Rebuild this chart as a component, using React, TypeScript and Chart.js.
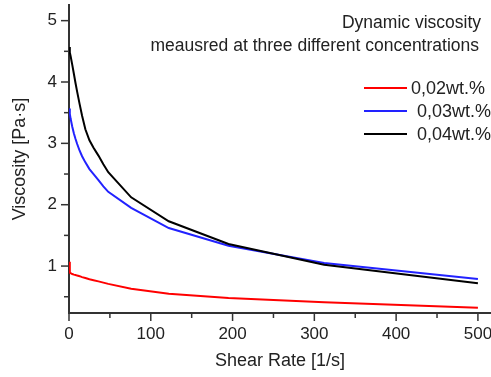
import React, { useEffect, useRef } from "react";
import { Chart, registerables } from "chart.js";

Chart.register(...registerables);

const shearRate = [0, 1, 2, 4, 6, 8, 10, 13, 16, 20, 25, 30, 36, 42, 48, 76, 122, 195, 312, 500];
const visc002 = [1.07, 0.89, 0.885, 0.87, 0.86, 0.855, 0.845, 0.835, 0.82, 0.805, 0.785, 0.77, 0.75, 0.73, 0.71, 0.63, 0.55, 0.48, 0.41, 0.32];
const visc003 = [3.57, 3.48, 3.4, 3.27, 3.16, 3.07, 2.99, 2.88, 2.79, 2.69, 2.58, 2.5, 2.4, 2.3, 2.21, 1.95, 1.62, 1.33, 1.05, 0.79];
const visc004 = [4.57, 4.48, 4.42, 4.28, 4.13, 3.98, 3.84, 3.64, 3.45, 3.23, 3.05, 2.93, 2.8, 2.66, 2.53, 2.12, 1.73, 1.36, 1.02, 0.72];

const seriesLabels = ["0,02wt.%", "0,03wt.%", "0,04wt.%"];
const seriesColors = ["#ff0000", "#2222ff", "#000000"];

const xTicks = [0, 50, 100, 150, 200, 250, 300, 350, 400, 450, 500];
const yTicks = [0.5, 1, 1.5, 2, 2.5, 3, 3.5, 4, 4.5, 5];

const annotationLines = ["Dynamic viscosity", "meausred at three different concentrations"];

const FONT = "'Liberation Sans', Arial, sans-serif";
const TEXT = "#222";
const AXIS = "#333";

export default function App() {
  const ref = useRef<HTMLCanvasElement | null>(null);
  useEffect(() => {
    document.body.style.margin = "0";
    const canvas = ref.current;
    if (!canvas) return;
    const toPts = (ys: number[]) => shearRate.map((x, i) => ({ x, y: ys[i] }));
    const overlay = {
      id: "overlay",
      afterDraw(chart: any) {
        const ctx = chart.ctx;
        const xs = chart.scales.x;
        const ys = chart.scales.y;
        const area = chart.chartArea;
        ctx.save();
        ctx.strokeStyle = AXIS;
        ctx.lineWidth = 1.5;
        xTicks.forEach((v) => {
          const p = xs.getPixelForValue(v);
          const len = v % 100 === 0 ? 8 : 5;
          ctx.beginPath();
          ctx.moveTo(p, area.bottom);
          ctx.lineTo(p, area.bottom + len);
          ctx.stroke();
        });
        yTicks.forEach((v) => {
          const p = ys.getPixelForValue(v);
          const len = Number.isInteger(v) ? 8 : 5;
          ctx.beginPath();
          ctx.moveTo(area.left, p);
          ctx.lineTo(area.left - len, p);
          ctx.stroke();
        });
        ctx.fillStyle = TEXT;
        ctx.font = `17.5px ${FONT}`;
        ctx.textAlign = "right";
        ctx.textBaseline = "alphabetic";
        ctx.fillText(annotationLines[0], 481, 28);
        ctx.fillText(annotationLines[1], 479, 51);
        const rows = [88, 111, 134];
        const textX = [411, 417, 417];
        ctx.font = `18px ${FONT}`;
        ctx.textAlign = "left";
        ctx.textBaseline = "middle";
        seriesLabels.forEach((lab, i) => {
          ctx.strokeStyle = seriesColors[i];
          ctx.lineWidth = 2;
          ctx.beginPath();
          ctx.moveTo(364, rows[i]);
          ctx.lineTo(407, rows[i]);
          ctx.stroke();
          ctx.fillStyle = TEXT;
          ctx.fillText(lab, textX[i], rows[i] + 1);
        });
        ctx.restore();
      },
    };
    const chart = new Chart(canvas, {
      type: "line",
      data: {
        datasets: [
          { label: seriesLabels[0], data: toPts(visc002), borderColor: seriesColors[0], borderWidth: 2, pointRadius: 0, tension: 0, order: 2 },
          { label: seriesLabels[1], data: toPts(visc003), borderColor: seriesColors[1], borderWidth: 2, pointRadius: 0, tension: 0, order: 1 },
          { label: seriesLabels[2], data: toPts(visc004), borderColor: seriesColors[2], borderWidth: 2, pointRadius: 0, tension: 0, order: 0 },
        ],
      },
      options: {
        animation: false,
        responsive: false,
        layout: { padding: { top: 5, left: 0, right: 0, bottom: 0 } },
        plugins: { legend: { display: false }, tooltip: { enabled: false } },
        scales: {
          x: {
            type: "linear",
            min: 0,
            max: 516,
            afterBuildTicks: (s: any) => {
              s.ticks = xTicks.map((v) => ({ value: v }));
            },
            afterFit: (s: any) => {
              s.height = 64;
              s.paddingLeft = 0;
              s.paddingRight = 0;
              s.paddingTop = 0;
              s.paddingBottom = 0;
            },
            ticks: {
              autoSkip: false,
              maxRotation: 0,
              padding: 3,
              color: TEXT,
              font: { family: FONT, size: 17 },
              callback: (v: any) => (Number(v) % 100 === 0 ? String(v) : ""),
            },
            grid: { display: false, drawTicks: true, tickLength: 8 },
            border: { display: true, color: AXIS, width: 2 },
            title: {
              display: true,
              text: "Shear Rate [1/s]",
              color: TEXT,
              font: { family: FONT, size: 18 },
              padding: { top: 0, bottom: 5 },
            },
          },
          y: {
            type: "linear",
            min: 0.235,
            max: 5.255,
            afterBuildTicks: (s: any) => {
              s.ticks = yTicks.map((v) => ({ value: v }));
            },
            afterFit: (s: any) => {
              s.width = 69;
              s.paddingLeft = 0;
              s.paddingRight = 0;
              s.paddingTop = 0;
              s.paddingBottom = 0;
            },
            ticks: {
              autoSkip: false,
              padding: 4,
              color: TEXT,
              font: { family: FONT, size: 17 },
              callback: (v: any) => (Number.isInteger(Number(v)) ? String(v) : ""),
            },
            grid: { display: false, drawTicks: true, tickLength: 8 },
            border: { display: true, color: AXIS, width: 2 },
            title: {
              display: true,
              text: "Viscosity [Pa·s]",
              color: TEXT,
              font: { family: FONT, size: 18 },
              padding: { top: 9, bottom: 0 },
            },
          },
        },
      },
      plugins: [overlay],
    } as any);
    return () => chart.destroy();
  }, []);
  return (
    <div style={{ width: 491, height: 377 }}>
      <canvas ref={ref} width={491} height={377} style={{ display: "block" }} />
    </div>
  );
}
